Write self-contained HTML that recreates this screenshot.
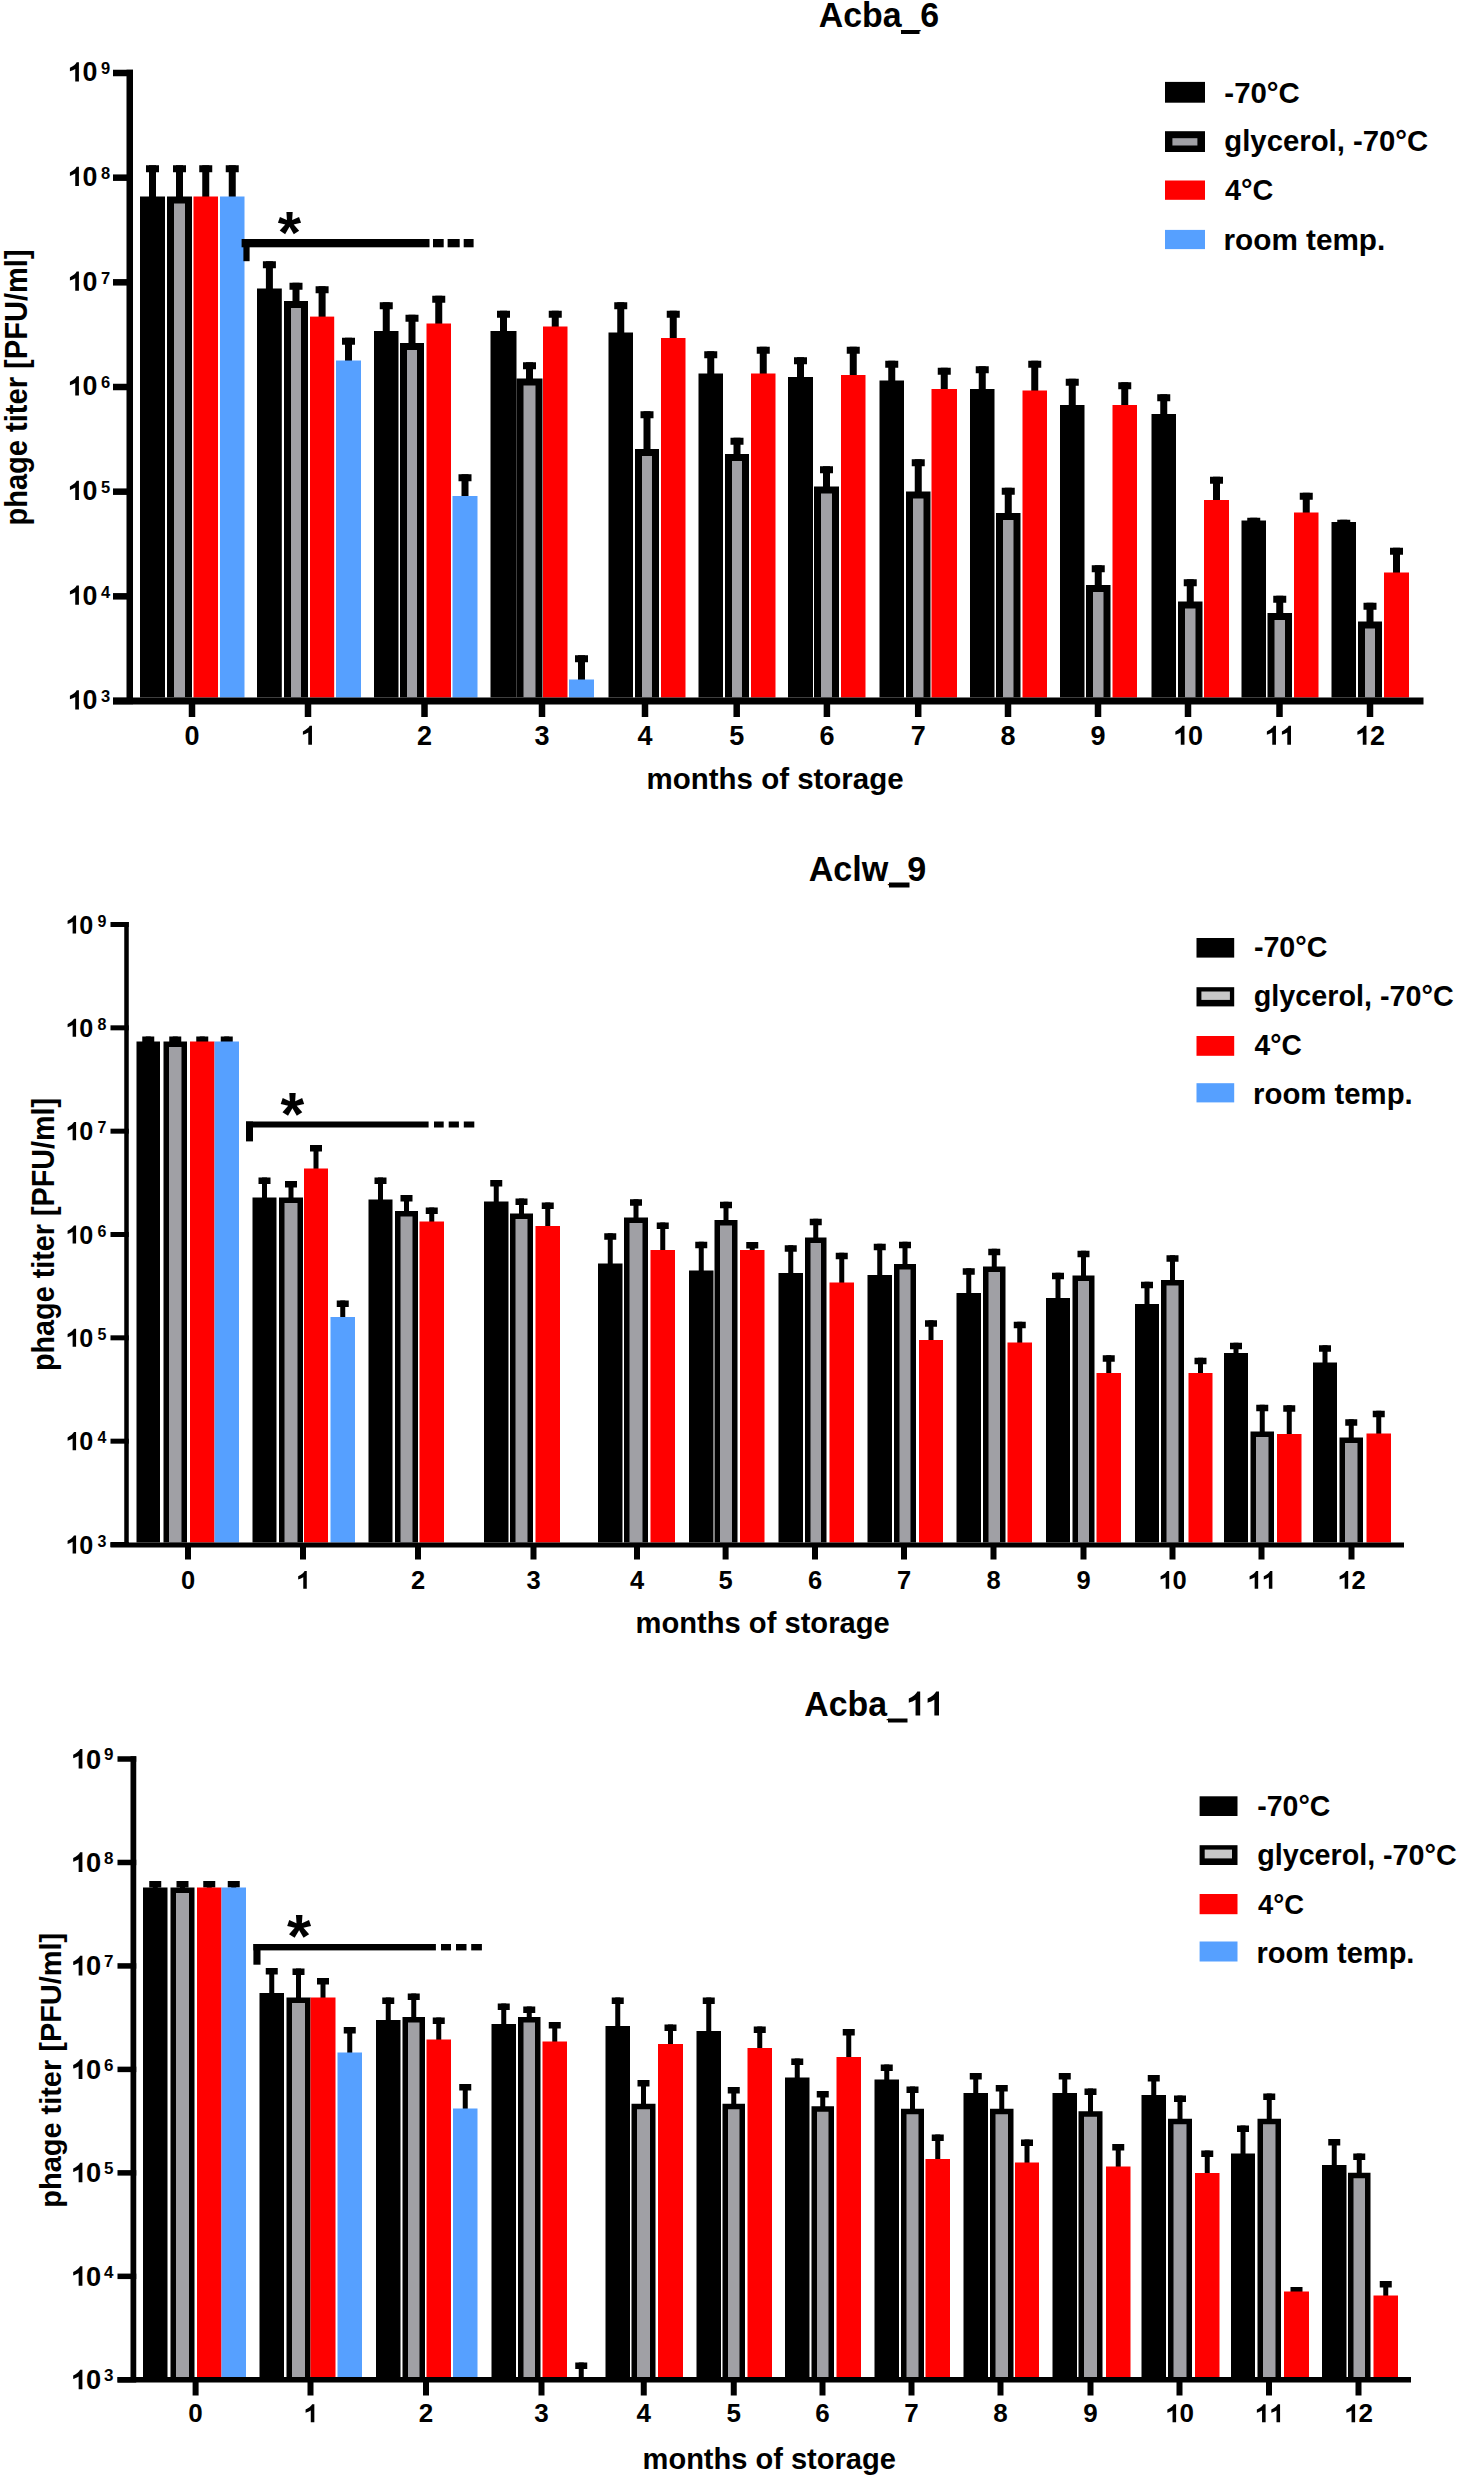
<!DOCTYPE html>
<html><head><meta charset="utf-8"><style>
html,body{margin:0;padding:0;background:#fff;width:1460px;height:2479px;overflow:hidden}
svg{display:block}
text{font-family:"Liberation Sans",sans-serif;font-weight:bold;fill:#000}
</style></head><body>
<svg width="1460" height="2479" viewBox="0 0 1460 2479">
<rect width="1460" height="2479" fill="#fff"/>
<rect x="149.00" y="165.25" width="7.00" height="32.25" fill="#000"/>
<rect x="146.00" y="165.25" width="13.00" height="7.00" fill="#000"/>
<rect x="140.00" y="196.50" width="25.00" height="501.00" fill="#000"/>
<rect x="176.00" y="165.25" width="7.00" height="32.25" fill="#000"/>
<rect x="173.00" y="165.25" width="13.00" height="7.00" fill="#000"/>
<rect x="167.00" y="196.50" width="25.00" height="501.00" fill="#000"/>
<rect x="174.00" y="203.50" width="11.00" height="494.00" fill="#a0a0a5"/>
<rect x="202.25" y="165.25" width="7.00" height="32.25" fill="#000"/>
<rect x="199.25" y="165.25" width="13.00" height="7.00" fill="#000"/>
<rect x="193.50" y="196.50" width="24.50" height="501.00" fill="#ff0000"/>
<rect x="228.75" y="165.25" width="7.00" height="32.25" fill="#000"/>
<rect x="225.75" y="165.25" width="13.00" height="7.00" fill="#000"/>
<rect x="220.00" y="196.50" width="24.50" height="501.00" fill="#56a0ff"/>
<rect x="265.90" y="261.25" width="7.00" height="28.25" fill="#000"/>
<rect x="262.90" y="261.25" width="13.00" height="7.00" fill="#000"/>
<rect x="257.00" y="288.50" width="24.80" height="409.00" fill="#000"/>
<rect x="292.50" y="282.75" width="7.00" height="19.25" fill="#000"/>
<rect x="289.50" y="282.75" width="13.00" height="7.00" fill="#000"/>
<rect x="284.00" y="301.00" width="24.00" height="396.50" fill="#000"/>
<rect x="291.00" y="308.00" width="10.00" height="389.50" fill="#a0a0a5"/>
<rect x="318.60" y="286.25" width="7.00" height="31.35" fill="#000"/>
<rect x="315.60" y="286.25" width="13.00" height="7.00" fill="#000"/>
<rect x="310.00" y="316.60" width="24.20" height="380.90" fill="#ff0000"/>
<rect x="345.00" y="337.75" width="7.00" height="23.75" fill="#000"/>
<rect x="342.00" y="337.75" width="13.00" height="7.00" fill="#000"/>
<rect x="336.00" y="360.50" width="25.00" height="337.00" fill="#56a0ff"/>
<rect x="382.75" y="302.25" width="7.00" height="29.75" fill="#000"/>
<rect x="379.75" y="302.25" width="13.00" height="7.00" fill="#000"/>
<rect x="374.00" y="331.00" width="24.50" height="366.50" fill="#000"/>
<rect x="408.50" y="314.75" width="7.00" height="29.25" fill="#000"/>
<rect x="405.50" y="314.75" width="13.00" height="7.00" fill="#000"/>
<rect x="400.00" y="343.00" width="24.00" height="354.50" fill="#000"/>
<rect x="407.00" y="350.00" width="10.00" height="347.50" fill="#a0a0a5"/>
<rect x="435.25" y="295.75" width="7.00" height="28.75" fill="#000"/>
<rect x="432.25" y="295.75" width="13.00" height="7.00" fill="#000"/>
<rect x="426.50" y="323.50" width="24.50" height="374.00" fill="#ff0000"/>
<rect x="461.50" y="474.25" width="7.00" height="22.75" fill="#000"/>
<rect x="458.50" y="474.25" width="13.00" height="7.00" fill="#000"/>
<rect x="452.50" y="496.00" width="25.00" height="201.50" fill="#56a0ff"/>
<rect x="500.00" y="310.75" width="7.00" height="21.25" fill="#000"/>
<rect x="497.00" y="310.75" width="13.00" height="7.00" fill="#000"/>
<rect x="490.50" y="331.00" width="26.00" height="366.50" fill="#000"/>
<rect x="526.00" y="362.25" width="7.00" height="17.25" fill="#000"/>
<rect x="523.00" y="362.25" width="13.00" height="7.00" fill="#000"/>
<rect x="516.50" y="378.50" width="26.00" height="319.00" fill="#000"/>
<rect x="523.50" y="385.50" width="12.00" height="312.00" fill="#a0a0a5"/>
<rect x="551.75" y="310.75" width="7.00" height="16.75" fill="#000"/>
<rect x="548.75" y="310.75" width="13.00" height="7.00" fill="#000"/>
<rect x="543.00" y="326.50" width="24.50" height="371.00" fill="#ff0000"/>
<rect x="578.00" y="655.25" width="7.00" height="25.25" fill="#000"/>
<rect x="575.00" y="655.25" width="13.00" height="7.00" fill="#000"/>
<rect x="569.00" y="679.50" width="25.00" height="18.00" fill="#56a0ff"/>
<rect x="617.25" y="302.25" width="7.00" height="31.25" fill="#000"/>
<rect x="614.25" y="302.25" width="13.00" height="7.00" fill="#000"/>
<rect x="608.50" y="332.50" width="24.50" height="365.00" fill="#000"/>
<rect x="643.50" y="411.25" width="7.00" height="38.75" fill="#000"/>
<rect x="640.50" y="411.25" width="13.00" height="7.00" fill="#000"/>
<rect x="635.00" y="449.00" width="24.00" height="248.50" fill="#000"/>
<rect x="642.00" y="456.00" width="10.00" height="241.50" fill="#a0a0a5"/>
<rect x="669.75" y="310.75" width="7.00" height="28.25" fill="#000"/>
<rect x="666.75" y="310.75" width="13.00" height="7.00" fill="#000"/>
<rect x="661.00" y="338.00" width="24.50" height="359.50" fill="#ff0000"/>
<rect x="707.25" y="351.25" width="7.00" height="23.25" fill="#000"/>
<rect x="704.25" y="351.25" width="13.00" height="7.00" fill="#000"/>
<rect x="698.50" y="373.50" width="24.50" height="324.00" fill="#000"/>
<rect x="733.50" y="437.75" width="7.00" height="17.25" fill="#000"/>
<rect x="730.50" y="437.75" width="13.00" height="7.00" fill="#000"/>
<rect x="725.00" y="454.00" width="24.00" height="243.50" fill="#000"/>
<rect x="732.00" y="461.00" width="10.00" height="236.50" fill="#a0a0a5"/>
<rect x="759.75" y="346.75" width="7.00" height="27.75" fill="#000"/>
<rect x="756.75" y="346.75" width="13.00" height="7.00" fill="#000"/>
<rect x="751.00" y="373.50" width="24.50" height="324.00" fill="#ff0000"/>
<rect x="797.00" y="357.25" width="7.00" height="20.75" fill="#000"/>
<rect x="794.00" y="357.25" width="13.00" height="7.00" fill="#000"/>
<rect x="788.00" y="377.00" width="25.00" height="320.50" fill="#000"/>
<rect x="823.00" y="466.25" width="7.00" height="21.25" fill="#000"/>
<rect x="820.00" y="466.25" width="13.00" height="7.00" fill="#000"/>
<rect x="814.00" y="486.50" width="25.00" height="211.00" fill="#000"/>
<rect x="821.00" y="493.50" width="11.00" height="204.00" fill="#a0a0a5"/>
<rect x="849.75" y="346.75" width="7.00" height="29.25" fill="#000"/>
<rect x="846.75" y="346.75" width="13.00" height="7.00" fill="#000"/>
<rect x="841.00" y="375.00" width="24.50" height="322.50" fill="#ff0000"/>
<rect x="888.25" y="360.75" width="7.00" height="20.75" fill="#000"/>
<rect x="885.25" y="360.75" width="13.00" height="7.00" fill="#000"/>
<rect x="879.50" y="380.50" width="24.50" height="317.00" fill="#000"/>
<rect x="914.75" y="459.25" width="7.00" height="33.25" fill="#000"/>
<rect x="911.75" y="459.25" width="13.00" height="7.00" fill="#000"/>
<rect x="906.00" y="491.50" width="24.50" height="206.00" fill="#000"/>
<rect x="913.00" y="498.50" width="10.50" height="199.00" fill="#a0a0a5"/>
<rect x="940.75" y="367.75" width="7.00" height="22.25" fill="#000"/>
<rect x="937.75" y="367.75" width="13.00" height="7.00" fill="#000"/>
<rect x="931.50" y="389.00" width="25.50" height="308.50" fill="#ff0000"/>
<rect x="978.75" y="366.25" width="7.00" height="23.75" fill="#000"/>
<rect x="975.75" y="366.25" width="13.00" height="7.00" fill="#000"/>
<rect x="970.00" y="389.00" width="24.50" height="308.50" fill="#000"/>
<rect x="1004.75" y="487.75" width="7.00" height="26.25" fill="#000"/>
<rect x="1001.75" y="487.75" width="13.00" height="7.00" fill="#000"/>
<rect x="996.00" y="513.00" width="24.50" height="184.50" fill="#000"/>
<rect x="1003.00" y="520.00" width="10.50" height="177.50" fill="#a0a0a5"/>
<rect x="1031.25" y="360.75" width="7.00" height="30.75" fill="#000"/>
<rect x="1028.25" y="360.75" width="13.00" height="7.00" fill="#000"/>
<rect x="1022.50" y="390.50" width="24.50" height="307.00" fill="#ff0000"/>
<rect x="1068.75" y="378.75" width="7.00" height="27.25" fill="#000"/>
<rect x="1065.75" y="378.75" width="13.00" height="7.00" fill="#000"/>
<rect x="1060.00" y="405.00" width="24.50" height="292.50" fill="#000"/>
<rect x="1094.75" y="565.25" width="7.00" height="20.75" fill="#000"/>
<rect x="1091.75" y="565.25" width="13.00" height="7.00" fill="#000"/>
<rect x="1086.00" y="585.00" width="24.50" height="112.50" fill="#000"/>
<rect x="1093.00" y="592.00" width="10.50" height="105.50" fill="#a0a0a5"/>
<rect x="1121.25" y="382.25" width="7.00" height="23.75" fill="#000"/>
<rect x="1118.25" y="382.25" width="13.00" height="7.00" fill="#000"/>
<rect x="1112.50" y="405.00" width="24.50" height="292.50" fill="#ff0000"/>
<rect x="1160.25" y="394.25" width="7.00" height="20.75" fill="#000"/>
<rect x="1157.25" y="394.25" width="13.00" height="7.00" fill="#000"/>
<rect x="1151.50" y="414.00" width="24.50" height="283.50" fill="#000"/>
<rect x="1186.75" y="579.25" width="7.00" height="23.25" fill="#000"/>
<rect x="1183.75" y="579.25" width="13.00" height="7.00" fill="#000"/>
<rect x="1178.00" y="601.50" width="24.50" height="96.00" fill="#000"/>
<rect x="1185.00" y="608.50" width="10.50" height="89.00" fill="#a0a0a5"/>
<rect x="1213.00" y="476.75" width="7.00" height="24.25" fill="#000"/>
<rect x="1210.00" y="476.75" width="13.00" height="7.00" fill="#000"/>
<rect x="1204.00" y="500.00" width="25.00" height="197.50" fill="#ff0000"/>
<rect x="1250.25" y="517.75" width="7.00" height="3.75" fill="#000"/>
<rect x="1247.25" y="517.75" width="13.00" height="7.00" fill="#000"/>
<rect x="1241.50" y="520.50" width="24.50" height="177.00" fill="#000"/>
<rect x="1276.25" y="595.75" width="7.00" height="18.25" fill="#000"/>
<rect x="1273.25" y="595.75" width="13.00" height="7.00" fill="#000"/>
<rect x="1267.50" y="613.00" width="24.50" height="84.50" fill="#000"/>
<rect x="1274.50" y="620.00" width="10.50" height="77.50" fill="#a0a0a5"/>
<rect x="1302.75" y="492.75" width="7.00" height="20.75" fill="#000"/>
<rect x="1299.75" y="492.75" width="13.00" height="7.00" fill="#000"/>
<rect x="1294.00" y="512.50" width="24.50" height="185.00" fill="#ff0000"/>
<rect x="1340.25" y="519.75" width="7.00" height="3.25" fill="#000"/>
<rect x="1337.25" y="519.75" width="13.00" height="7.00" fill="#000"/>
<rect x="1331.50" y="522.00" width="24.50" height="175.50" fill="#000"/>
<rect x="1366.50" y="602.75" width="7.00" height="19.75" fill="#000"/>
<rect x="1363.50" y="602.75" width="13.00" height="7.00" fill="#000"/>
<rect x="1358.00" y="621.50" width="24.00" height="76.00" fill="#000"/>
<rect x="1365.00" y="628.50" width="10.00" height="69.00" fill="#a0a0a5"/>
<rect x="1393.00" y="547.75" width="7.00" height="25.75" fill="#000"/>
<rect x="1390.00" y="547.75" width="13.00" height="7.00" fill="#000"/>
<rect x="1384.00" y="572.50" width="25.00" height="125.00" fill="#ff0000"/>
<rect x="126.50" y="69.75" width="6.50" height="628.75" fill="#000"/>
<rect x="113.00" y="69.75" width="20.00" height="6.50" fill="#000"/>
<rect x="113.00" y="174.42" width="20.00" height="6.50" fill="#000"/>
<rect x="113.00" y="279.08" width="20.00" height="6.50" fill="#000"/>
<rect x="113.00" y="383.75" width="20.00" height="6.50" fill="#000"/>
<rect x="113.00" y="488.42" width="20.00" height="6.50" fill="#000"/>
<rect x="113.00" y="593.08" width="20.00" height="6.50" fill="#000"/>
<rect x="113.00" y="697.75" width="20.00" height="6.50" fill="#000"/>
<rect x="113.00" y="697.50" width="1310.50" height="7.00" fill="#000"/>
<rect x="188.75" y="704.00" width="6.50" height="13.00" fill="#000"/>
<text transform="translate(184.49,744.70) scale(1.0000,1.0000)" font-size="27">0</text>
<rect x="304.75" y="704.00" width="6.50" height="13.00" fill="#000"/>
<path transform="translate(300.49,744.70) scale(0.01318,-0.01318)" d="M872,0L872,1430L700,1430C640,1290 440,1130 182,1010L182,754C330,800 480,860 591,930L591,0Z"/>
<rect x="421.25" y="704.00" width="6.50" height="13.00" fill="#000"/>
<text transform="translate(416.99,744.70) scale(1.0000,1.0000)" font-size="27">2</text>
<rect x="538.75" y="704.00" width="6.50" height="13.00" fill="#000"/>
<text transform="translate(534.49,744.70) scale(1.0000,1.0000)" font-size="27">3</text>
<rect x="641.75" y="704.00" width="6.50" height="13.00" fill="#000"/>
<text transform="translate(637.49,744.70) scale(1.0000,1.0000)" font-size="27">4</text>
<rect x="733.45" y="704.00" width="6.50" height="13.00" fill="#000"/>
<text transform="translate(729.19,744.70) scale(1.0000,1.0000)" font-size="27">5</text>
<rect x="823.65" y="704.00" width="6.50" height="13.00" fill="#000"/>
<text transform="translate(819.39,744.70) scale(1.0000,1.0000)" font-size="27">6</text>
<rect x="914.95" y="704.00" width="6.50" height="13.00" fill="#000"/>
<text transform="translate(910.69,744.70) scale(1.0000,1.0000)" font-size="27">7</text>
<rect x="1004.75" y="704.00" width="6.50" height="13.00" fill="#000"/>
<text transform="translate(1000.49,744.70) scale(1.0000,1.0000)" font-size="27">8</text>
<rect x="1094.75" y="704.00" width="6.50" height="13.00" fill="#000"/>
<text transform="translate(1090.49,744.70) scale(1.0000,1.0000)" font-size="27">9</text>
<rect x="1184.75" y="704.00" width="6.50" height="13.00" fill="#000"/>
<path transform="translate(1172.98,744.70) scale(0.01318,-0.01318)" d="M872,0L872,1430L700,1430C640,1290 440,1130 182,1010L182,754C330,800 480,860 591,930L591,0Z"/>
<text transform="translate(1188.00,744.70) scale(1.0000,1.0000)" font-size="27">0</text>
<rect x="1276.25" y="704.00" width="6.50" height="13.00" fill="#000"/>
<path transform="translate(1264.48,744.70) scale(0.01318,-0.01318)" d="M872,0L872,1430L700,1430C640,1290 440,1130 182,1010L182,754C330,800 480,860 591,930L591,0Z"/>
<path transform="translate(1279.50,744.70) scale(0.01318,-0.01318)" d="M872,0L872,1430L700,1430C640,1290 440,1130 182,1010L182,754C330,800 480,860 591,930L591,0Z"/>
<rect x="1366.75" y="704.00" width="6.50" height="13.00" fill="#000"/>
<path transform="translate(1354.98,744.70) scale(0.01318,-0.01318)" d="M872,0L872,1430L700,1430C640,1290 440,1130 182,1010L182,754C330,800 480,860 591,930L591,0Z"/>
<text transform="translate(1370.00,744.70) scale(1.0000,1.0000)" font-size="27">2</text>
<path transform="translate(67.52,81.40) scale(0.01307,-0.01346)" d="M872,0L872,1430L700,1430C640,1290 440,1130 182,1010L182,754C330,800 480,860 591,930L591,0Z"/>
<text transform="translate(82.41,81.40) scale(0.8924,0.9191)" font-size="30">0</text>
<text transform="translate(100.91,74.30) scale(1.0000,1.0000)" font-size="16.5">9</text>
<path transform="translate(67.52,186.07) scale(0.01307,-0.01346)" d="M872,0L872,1430L700,1430C640,1290 440,1130 182,1010L182,754C330,800 480,860 591,930L591,0Z"/>
<text transform="translate(82.41,186.07) scale(0.8924,0.9191)" font-size="30">0</text>
<text transform="translate(100.91,178.97) scale(1.0000,1.0000)" font-size="16.5">8</text>
<path transform="translate(67.52,290.73) scale(0.01307,-0.01346)" d="M872,0L872,1430L700,1430C640,1290 440,1130 182,1010L182,754C330,800 480,860 591,930L591,0Z"/>
<text transform="translate(82.41,290.73) scale(0.8924,0.9191)" font-size="30">0</text>
<text transform="translate(100.91,283.63) scale(1.0000,1.0000)" font-size="16.5">7</text>
<path transform="translate(67.52,395.40) scale(0.01307,-0.01346)" d="M872,0L872,1430L700,1430C640,1290 440,1130 182,1010L182,754C330,800 480,860 591,930L591,0Z"/>
<text transform="translate(82.41,395.40) scale(0.8924,0.9191)" font-size="30">0</text>
<text transform="translate(100.91,388.30) scale(1.0000,1.0000)" font-size="16.5">6</text>
<path transform="translate(67.52,500.07) scale(0.01307,-0.01346)" d="M872,0L872,1430L700,1430C640,1290 440,1130 182,1010L182,754C330,800 480,860 591,930L591,0Z"/>
<text transform="translate(82.41,500.07) scale(0.8924,0.9191)" font-size="30">0</text>
<text transform="translate(100.91,492.97) scale(1.0000,1.0000)" font-size="16.5">5</text>
<path transform="translate(67.52,604.73) scale(0.01307,-0.01346)" d="M872,0L872,1430L700,1430C640,1290 440,1130 182,1010L182,754C330,800 480,860 591,930L591,0Z"/>
<text transform="translate(82.41,604.73) scale(0.8924,0.9191)" font-size="30">0</text>
<text transform="translate(100.91,597.63) scale(1.0000,1.0000)" font-size="16.5">4</text>
<path transform="translate(67.52,709.40) scale(0.01307,-0.01346)" d="M872,0L872,1430L700,1430C640,1290 440,1130 182,1010L182,754C330,800 480,860 591,930L591,0Z"/>
<text transform="translate(82.41,709.40) scale(0.8924,0.9191)" font-size="30">0</text>
<text transform="translate(100.91,702.30) scale(1.0000,1.0000)" font-size="16.5">3</text>
<text transform="translate(646.56,788.80) scale(0.9827,1.0023)" font-size="30">months of storage</text>
<text transform="translate(26.85,525.62) rotate(-90) scale(0.9696,1.0144)" font-size="30">phage titer [PFU/ml]</text>
<text transform="translate(818.66,27.00) scale(1.1297,1.1523)" font-size="30">Acba_6</text>
<rect x="901.00" y="30.00" width="18.50" height="4.00" fill="#000"/>
<rect x="1165.00" y="81.90" width="40.00" height="20.80" fill="#000"/>
<text transform="translate(1224.35,102.70) scale(0.9796,0.9992)" font-size="30">-70°C</text>
<rect x="1165.00" y="131.20" width="40.00" height="20.80" fill="#000"/>
<rect x="1172.40" y="138.20" width="25.00" height="7.30" fill="#a0a0a5"/>
<text transform="translate(1224.30,151.00) scale(0.9773,0.9969)" font-size="30">glycerol, -70°C</text>
<rect x="1165.00" y="180.50" width="40.00" height="19.30" fill="#ff0000"/>
<text transform="translate(1225.06,200.30) scale(0.9598,0.9790)" font-size="30">4°C</text>
<rect x="1165.00" y="229.90" width="40.00" height="19.20" fill="#56a0ff"/>
<text transform="translate(1223.54,249.60) scale(0.9906,1.0104)" font-size="30">room temp.</text>
<rect x="241.60" y="239.00" width="187.90" height="8.30" fill="#000"/>
<rect x="433.00" y="239.00" width="10.70" height="8.30" fill="#000"/>
<rect x="447.60" y="239.00" width="12.10" height="8.30" fill="#000"/>
<rect x="463.70" y="239.00" width="9.90" height="8.30" fill="#000"/>
<rect x="243.40" y="239.00" width="6.20" height="22.20" fill="#000"/>
<text x="277.70" y="252.60" font-size="60" text-anchor="start" >*</text>
<rect x="145.75" y="1036.50" width="5.00" height="6.00" fill="#000"/>
<rect x="142.25" y="1036.50" width="12.00" height="6.50" fill="#000"/>
<rect x="136.50" y="1041.50" width="23.50" height="501.00" fill="#000"/>
<rect x="172.75" y="1036.50" width="5.00" height="6.00" fill="#000"/>
<rect x="169.25" y="1036.50" width="12.00" height="6.50" fill="#000"/>
<rect x="163.50" y="1041.50" width="23.50" height="501.00" fill="#000"/>
<rect x="169.00" y="1047.00" width="12.50" height="495.50" fill="#a0a0a5"/>
<rect x="199.75" y="1036.50" width="5.00" height="6.00" fill="#000"/>
<rect x="196.25" y="1036.50" width="12.00" height="6.50" fill="#000"/>
<rect x="190.00" y="1041.50" width="24.50" height="501.00" fill="#ff0000"/>
<rect x="224.25" y="1036.50" width="5.00" height="6.00" fill="#000"/>
<rect x="220.75" y="1036.50" width="12.00" height="6.50" fill="#000"/>
<rect x="214.50" y="1041.50" width="24.50" height="501.00" fill="#56a0ff"/>
<rect x="262.00" y="1177.50" width="5.00" height="21.00" fill="#000"/>
<rect x="258.50" y="1177.50" width="12.00" height="6.50" fill="#000"/>
<rect x="252.50" y="1197.50" width="24.00" height="345.00" fill="#000"/>
<rect x="288.50" y="1181.00" width="5.00" height="17.50" fill="#000"/>
<rect x="285.00" y="1181.00" width="12.00" height="6.50" fill="#000"/>
<rect x="279.00" y="1197.50" width="24.00" height="345.00" fill="#000"/>
<rect x="284.50" y="1203.00" width="13.00" height="339.50" fill="#a0a0a5"/>
<rect x="313.50" y="1145.00" width="5.00" height="24.50" fill="#000"/>
<rect x="310.00" y="1145.00" width="12.00" height="6.50" fill="#000"/>
<rect x="304.00" y="1168.50" width="24.00" height="374.00" fill="#ff0000"/>
<rect x="340.25" y="1300.50" width="5.00" height="17.50" fill="#000"/>
<rect x="336.75" y="1300.50" width="12.00" height="6.50" fill="#000"/>
<rect x="330.50" y="1317.00" width="24.50" height="225.50" fill="#56a0ff"/>
<rect x="378.00" y="1177.50" width="5.00" height="23.00" fill="#000"/>
<rect x="374.50" y="1177.50" width="12.00" height="6.50" fill="#000"/>
<rect x="368.50" y="1199.50" width="24.00" height="343.00" fill="#000"/>
<rect x="404.00" y="1195.00" width="5.00" height="17.00" fill="#000"/>
<rect x="400.50" y="1195.00" width="12.00" height="6.50" fill="#000"/>
<rect x="395.00" y="1211.00" width="23.00" height="331.50" fill="#000"/>
<rect x="400.50" y="1216.50" width="12.00" height="326.00" fill="#a0a0a5"/>
<rect x="429.25" y="1207.50" width="5.00" height="15.00" fill="#000"/>
<rect x="425.75" y="1207.50" width="12.00" height="6.50" fill="#000"/>
<rect x="419.50" y="1221.50" width="24.50" height="321.00" fill="#ff0000"/>
<rect x="493.75" y="1180.00" width="5.00" height="22.50" fill="#000"/>
<rect x="490.25" y="1180.00" width="12.00" height="6.50" fill="#000"/>
<rect x="484.00" y="1201.50" width="24.50" height="341.00" fill="#000"/>
<rect x="519.00" y="1198.50" width="5.00" height="16.00" fill="#000"/>
<rect x="515.50" y="1198.50" width="12.00" height="6.50" fill="#000"/>
<rect x="510.00" y="1213.50" width="23.00" height="329.00" fill="#000"/>
<rect x="515.50" y="1219.00" width="12.00" height="323.50" fill="#a0a0a5"/>
<rect x="545.25" y="1202.50" width="5.00" height="24.50" fill="#000"/>
<rect x="541.75" y="1202.50" width="12.00" height="6.50" fill="#000"/>
<rect x="535.50" y="1226.00" width="24.50" height="316.50" fill="#ff0000"/>
<rect x="607.75" y="1233.25" width="5.00" height="31.25" fill="#000"/>
<rect x="604.25" y="1233.25" width="12.00" height="6.50" fill="#000"/>
<rect x="598.00" y="1263.50" width="24.50" height="279.00" fill="#000"/>
<rect x="633.50" y="1199.25" width="5.00" height="19.25" fill="#000"/>
<rect x="630.00" y="1199.25" width="12.00" height="6.50" fill="#000"/>
<rect x="624.00" y="1217.50" width="24.00" height="325.00" fill="#000"/>
<rect x="629.50" y="1223.00" width="13.00" height="319.50" fill="#a0a0a5"/>
<rect x="660.25" y="1222.50" width="5.00" height="28.50" fill="#000"/>
<rect x="656.75" y="1222.50" width="12.00" height="6.50" fill="#000"/>
<rect x="650.50" y="1250.00" width="24.50" height="292.50" fill="#ff0000"/>
<rect x="698.75" y="1241.75" width="5.00" height="29.75" fill="#000"/>
<rect x="695.25" y="1241.75" width="12.00" height="6.50" fill="#000"/>
<rect x="689.00" y="1270.50" width="24.50" height="272.00" fill="#000"/>
<rect x="723.50" y="1201.75" width="5.00" height="19.25" fill="#000"/>
<rect x="720.00" y="1201.75" width="12.00" height="6.50" fill="#000"/>
<rect x="714.50" y="1220.00" width="23.00" height="322.50" fill="#000"/>
<rect x="720.00" y="1225.50" width="12.00" height="317.00" fill="#a0a0a5"/>
<rect x="749.75" y="1242.00" width="5.00" height="9.00" fill="#000"/>
<rect x="746.25" y="1242.00" width="12.00" height="6.50" fill="#000"/>
<rect x="740.00" y="1250.00" width="24.50" height="292.50" fill="#ff0000"/>
<rect x="788.25" y="1245.25" width="5.00" height="28.75" fill="#000"/>
<rect x="784.75" y="1245.25" width="12.00" height="6.50" fill="#000"/>
<rect x="778.50" y="1273.00" width="24.50" height="269.50" fill="#000"/>
<rect x="813.25" y="1218.75" width="5.00" height="19.75" fill="#000"/>
<rect x="809.75" y="1218.75" width="12.00" height="6.50" fill="#000"/>
<rect x="805.00" y="1237.50" width="21.50" height="305.00" fill="#000"/>
<rect x="810.50" y="1243.00" width="10.50" height="299.50" fill="#a0a0a5"/>
<rect x="839.25" y="1252.75" width="5.00" height="30.75" fill="#000"/>
<rect x="835.75" y="1252.75" width="12.00" height="6.50" fill="#000"/>
<rect x="829.50" y="1282.50" width="24.50" height="260.00" fill="#ff0000"/>
<rect x="877.25" y="1243.75" width="5.00" height="32.25" fill="#000"/>
<rect x="873.75" y="1243.75" width="12.00" height="6.50" fill="#000"/>
<rect x="867.50" y="1275.00" width="24.50" height="267.50" fill="#000"/>
<rect x="902.50" y="1241.75" width="5.00" height="23.25" fill="#000"/>
<rect x="899.00" y="1241.75" width="12.00" height="6.50" fill="#000"/>
<rect x="894.00" y="1264.00" width="22.00" height="278.50" fill="#000"/>
<rect x="899.50" y="1269.50" width="11.00" height="273.00" fill="#a0a0a5"/>
<rect x="928.50" y="1320.25" width="5.00" height="20.75" fill="#000"/>
<rect x="925.00" y="1320.25" width="12.00" height="6.50" fill="#000"/>
<rect x="919.00" y="1340.00" width="24.00" height="202.50" fill="#ff0000"/>
<rect x="966.25" y="1268.25" width="5.00" height="25.75" fill="#000"/>
<rect x="962.75" y="1268.25" width="12.00" height="6.50" fill="#000"/>
<rect x="956.50" y="1293.00" width="24.50" height="249.50" fill="#000"/>
<rect x="991.75" y="1248.75" width="5.00" height="18.75" fill="#000"/>
<rect x="988.25" y="1248.75" width="12.00" height="6.50" fill="#000"/>
<rect x="983.00" y="1266.50" width="22.50" height="276.00" fill="#000"/>
<rect x="988.50" y="1272.00" width="11.50" height="270.50" fill="#a0a0a5"/>
<rect x="1017.25" y="1321.75" width="5.00" height="21.75" fill="#000"/>
<rect x="1013.75" y="1321.75" width="12.00" height="6.50" fill="#000"/>
<rect x="1007.50" y="1342.50" width="24.50" height="200.00" fill="#ff0000"/>
<rect x="1055.50" y="1272.75" width="5.00" height="26.25" fill="#000"/>
<rect x="1052.00" y="1272.75" width="12.00" height="6.50" fill="#000"/>
<rect x="1046.00" y="1298.00" width="24.00" height="244.50" fill="#000"/>
<rect x="1081.00" y="1250.75" width="5.00" height="25.75" fill="#000"/>
<rect x="1077.50" y="1250.75" width="12.00" height="6.50" fill="#000"/>
<rect x="1072.50" y="1275.50" width="22.00" height="267.00" fill="#000"/>
<rect x="1078.00" y="1281.00" width="11.00" height="261.50" fill="#a0a0a5"/>
<rect x="1106.25" y="1355.25" width="5.00" height="18.75" fill="#000"/>
<rect x="1102.75" y="1355.25" width="12.00" height="6.50" fill="#000"/>
<rect x="1096.50" y="1373.00" width="24.50" height="169.50" fill="#ff0000"/>
<rect x="1144.50" y="1281.75" width="5.00" height="23.25" fill="#000"/>
<rect x="1141.00" y="1281.75" width="12.00" height="6.50" fill="#000"/>
<rect x="1135.00" y="1304.00" width="24.00" height="238.50" fill="#000"/>
<rect x="1170.00" y="1255.25" width="5.00" height="25.75" fill="#000"/>
<rect x="1166.50" y="1255.25" width="12.00" height="6.50" fill="#000"/>
<rect x="1161.00" y="1280.00" width="23.00" height="262.50" fill="#000"/>
<rect x="1166.50" y="1285.50" width="12.00" height="257.00" fill="#a0a0a5"/>
<rect x="1198.00" y="1357.75" width="5.00" height="16.25" fill="#000"/>
<rect x="1194.50" y="1357.75" width="12.00" height="6.50" fill="#000"/>
<rect x="1188.50" y="1373.00" width="24.00" height="169.50" fill="#ff0000"/>
<rect x="1233.50" y="1342.75" width="5.00" height="11.25" fill="#000"/>
<rect x="1230.00" y="1342.75" width="12.00" height="6.50" fill="#000"/>
<rect x="1224.00" y="1353.00" width="24.00" height="189.50" fill="#000"/>
<rect x="1259.75" y="1404.75" width="5.00" height="27.75" fill="#000"/>
<rect x="1256.25" y="1404.75" width="12.00" height="6.50" fill="#000"/>
<rect x="1250.50" y="1431.50" width="23.50" height="111.00" fill="#000"/>
<rect x="1256.00" y="1437.00" width="12.50" height="105.50" fill="#a0a0a5"/>
<rect x="1286.75" y="1405.25" width="5.00" height="29.75" fill="#000"/>
<rect x="1283.25" y="1405.25" width="12.00" height="6.50" fill="#000"/>
<rect x="1277.00" y="1434.00" width="24.50" height="108.50" fill="#ff0000"/>
<rect x="1322.50" y="1345.25" width="5.00" height="18.25" fill="#000"/>
<rect x="1319.00" y="1345.25" width="12.00" height="6.50" fill="#000"/>
<rect x="1313.00" y="1362.50" width="24.00" height="180.00" fill="#000"/>
<rect x="1348.75" y="1419.25" width="5.00" height="19.25" fill="#000"/>
<rect x="1345.25" y="1419.25" width="12.00" height="6.50" fill="#000"/>
<rect x="1339.50" y="1437.50" width="23.50" height="105.00" fill="#000"/>
<rect x="1345.00" y="1443.00" width="12.50" height="99.50" fill="#a0a0a5"/>
<rect x="1376.25" y="1410.75" width="5.00" height="23.75" fill="#000"/>
<rect x="1372.75" y="1410.75" width="12.00" height="6.50" fill="#000"/>
<rect x="1366.50" y="1433.50" width="24.50" height="109.00" fill="#ff0000"/>
<rect x="124.25" y="922.00" width="4.50" height="621.50" fill="#000"/>
<rect x="110.50" y="922.00" width="18.25" height="5.00" fill="#000"/>
<rect x="110.50" y="1025.33" width="18.25" height="5.00" fill="#000"/>
<rect x="110.50" y="1128.67" width="18.25" height="5.00" fill="#000"/>
<rect x="110.50" y="1232.00" width="18.25" height="5.00" fill="#000"/>
<rect x="110.50" y="1335.33" width="18.25" height="5.00" fill="#000"/>
<rect x="110.50" y="1438.67" width="18.25" height="5.00" fill="#000"/>
<rect x="110.50" y="1542.00" width="18.25" height="5.00" fill="#000"/>
<rect x="110.50" y="1542.50" width="1293.50" height="5.00" fill="#000"/>
<rect x="185.00" y="1547.00" width="6.00" height="12.50" fill="#000"/>
<text transform="translate(180.91,1588.80) scale(1.0000,1.0000)" font-size="25.5">0</text>
<rect x="300.00" y="1547.00" width="6.00" height="12.50" fill="#000"/>
<path transform="translate(295.91,1588.80) scale(0.01245,-0.01245)" d="M872,0L872,1430L700,1430C640,1290 440,1130 182,1010L182,754C330,800 480,860 591,930L591,0Z"/>
<rect x="415.00" y="1547.00" width="6.00" height="12.50" fill="#000"/>
<text transform="translate(410.91,1588.80) scale(1.0000,1.0000)" font-size="25.5">2</text>
<rect x="530.50" y="1547.00" width="6.00" height="12.50" fill="#000"/>
<text transform="translate(526.41,1588.80) scale(1.0000,1.0000)" font-size="25.5">3</text>
<rect x="634.00" y="1547.00" width="6.00" height="12.50" fill="#000"/>
<text transform="translate(629.91,1588.80) scale(1.0000,1.0000)" font-size="25.5">4</text>
<rect x="722.60" y="1547.00" width="6.00" height="12.50" fill="#000"/>
<text transform="translate(718.51,1588.80) scale(1.0000,1.0000)" font-size="25.5">5</text>
<rect x="812.00" y="1547.00" width="6.00" height="12.50" fill="#000"/>
<text transform="translate(807.91,1588.80) scale(1.0000,1.0000)" font-size="25.5">6</text>
<rect x="901.00" y="1547.00" width="6.00" height="12.50" fill="#000"/>
<text transform="translate(896.91,1588.80) scale(1.0000,1.0000)" font-size="25.5">7</text>
<rect x="990.50" y="1547.00" width="6.00" height="12.50" fill="#000"/>
<text transform="translate(986.41,1588.80) scale(1.0000,1.0000)" font-size="25.5">8</text>
<rect x="1080.50" y="1547.00" width="6.00" height="12.50" fill="#000"/>
<text transform="translate(1076.41,1588.80) scale(1.0000,1.0000)" font-size="25.5">9</text>
<rect x="1169.50" y="1547.00" width="6.00" height="12.50" fill="#000"/>
<path transform="translate(1158.32,1588.80) scale(0.01245,-0.01245)" d="M872,0L872,1430L700,1430C640,1290 440,1130 182,1010L182,754C330,800 480,860 591,930L591,0Z"/>
<text transform="translate(1172.50,1588.80) scale(1.0000,1.0000)" font-size="25.5">0</text>
<rect x="1258.50" y="1547.00" width="6.00" height="12.50" fill="#000"/>
<path transform="translate(1247.32,1588.80) scale(0.01245,-0.01245)" d="M872,0L872,1430L700,1430C640,1290 440,1130 182,1010L182,754C330,800 480,860 591,930L591,0Z"/>
<path transform="translate(1261.50,1588.80) scale(0.01245,-0.01245)" d="M872,0L872,1430L700,1430C640,1290 440,1130 182,1010L182,754C330,800 480,860 591,930L591,0Z"/>
<rect x="1348.50" y="1547.00" width="6.00" height="12.50" fill="#000"/>
<path transform="translate(1337.32,1588.80) scale(0.01245,-0.01245)" d="M872,0L872,1430L700,1430C640,1290 440,1130 182,1010L182,754C330,800 480,860 591,930L591,0Z"/>
<text transform="translate(1351.50,1588.80) scale(1.0000,1.0000)" font-size="25.5">2</text>
<path transform="translate(65.37,933.50) scale(0.01228,-0.01264)" d="M872,0L872,1430L700,1430C640,1290 440,1130 182,1010L182,754C330,800 480,860 591,930L591,0Z"/>
<text transform="translate(79.35,933.50) scale(0.8381,0.8632)" font-size="30">0</text>
<text transform="translate(97.45,926.50) scale(1.0000,1.0000)" font-size="16">9</text>
<path transform="translate(65.37,1036.83) scale(0.01228,-0.01264)" d="M872,0L872,1430L700,1430C640,1290 440,1130 182,1010L182,754C330,800 480,860 591,930L591,0Z"/>
<text transform="translate(79.35,1036.83) scale(0.8381,0.8632)" font-size="30">0</text>
<text transform="translate(97.45,1029.83) scale(1.0000,1.0000)" font-size="16">8</text>
<path transform="translate(65.37,1140.17) scale(0.01228,-0.01264)" d="M872,0L872,1430L700,1430C640,1290 440,1130 182,1010L182,754C330,800 480,860 591,930L591,0Z"/>
<text transform="translate(79.35,1140.17) scale(0.8381,0.8632)" font-size="30">0</text>
<text transform="translate(97.45,1133.17) scale(1.0000,1.0000)" font-size="16">7</text>
<path transform="translate(65.37,1243.50) scale(0.01228,-0.01264)" d="M872,0L872,1430L700,1430C640,1290 440,1130 182,1010L182,754C330,800 480,860 591,930L591,0Z"/>
<text transform="translate(79.35,1243.50) scale(0.8381,0.8632)" font-size="30">0</text>
<text transform="translate(97.45,1236.50) scale(1.0000,1.0000)" font-size="16">6</text>
<path transform="translate(65.37,1346.83) scale(0.01228,-0.01264)" d="M872,0L872,1430L700,1430C640,1290 440,1130 182,1010L182,754C330,800 480,860 591,930L591,0Z"/>
<text transform="translate(79.35,1346.83) scale(0.8381,0.8632)" font-size="30">0</text>
<text transform="translate(97.45,1339.83) scale(1.0000,1.0000)" font-size="16">5</text>
<path transform="translate(65.37,1450.17) scale(0.01228,-0.01264)" d="M872,0L872,1430L700,1430C640,1290 440,1130 182,1010L182,754C330,800 480,860 591,930L591,0Z"/>
<text transform="translate(79.35,1450.17) scale(0.8381,0.8632)" font-size="30">0</text>
<text transform="translate(97.45,1443.17) scale(1.0000,1.0000)" font-size="16">4</text>
<path transform="translate(65.37,1553.50) scale(0.01228,-0.01264)" d="M872,0L872,1430L700,1430C640,1290 440,1130 182,1010L182,754C330,800 480,860 591,930L591,0Z"/>
<text transform="translate(79.35,1553.50) scale(0.8381,0.8632)" font-size="30">0</text>
<text transform="translate(97.45,1546.50) scale(1.0000,1.0000)" font-size="16">3</text>
<text transform="translate(635.58,1632.50) scale(0.9713,0.9907)" font-size="30">months of storage</text>
<text transform="translate(53.94,1371.00) rotate(-90) scale(0.9586,1.0322)" font-size="30">phage titer [PFU/ml]</text>
<text transform="translate(808.65,880.50) scale(1.1376,1.1604)" font-size="30">Aclw_9</text>
<rect x="889.00" y="882.50" width="20.50" height="5.00" fill="#000"/>
<rect x="1196.50" y="938.00" width="37.70" height="19.60" fill="#000"/>
<text transform="translate(1253.88,957.10) scale(0.9556,0.9747)" font-size="30">-70°C</text>
<rect x="1196.50" y="987.20" width="37.70" height="19.20" fill="#000"/>
<rect x="1201.40" y="991.50" width="28.50" height="8.40" fill="#c8c8c8"/>
<text transform="translate(1253.82,1005.80) scale(0.9580,0.9771)" font-size="30">glycerol, -70°C</text>
<rect x="1196.50" y="1036.00" width="37.70" height="19.80" fill="#ff0000"/>
<text transform="translate(1254.57,1054.70) scale(0.9374,0.9561)" font-size="30">4°C</text>
<rect x="1196.50" y="1083.20" width="37.70" height="19.20" fill="#56a0ff"/>
<text transform="translate(1253.07,1104.00) scale(0.9774,0.9969)" font-size="30">room temp.</text>
<rect x="246.00" y="1121.50" width="182.60" height="6.00" fill="#000"/>
<rect x="434.00" y="1121.50" width="9.70" height="6.00" fill="#000"/>
<rect x="448.70" y="1121.50" width="10.20" height="6.00" fill="#000"/>
<rect x="463.80" y="1121.50" width="10.50" height="6.00" fill="#000"/>
<rect x="246.00" y="1121.50" width="7.00" height="19.90" fill="#000"/>
<text x="280.50" y="1134.50" font-size="61" text-anchor="start" >*</text>
<rect x="152.75" y="1881.00" width="5.00" height="7.50" fill="#000"/>
<rect x="149.25" y="1881.00" width="12.00" height="6.50" fill="#000"/>
<rect x="143.00" y="1887.50" width="24.50" height="489.50" fill="#000"/>
<rect x="180.00" y="1881.00" width="5.00" height="7.50" fill="#000"/>
<rect x="176.50" y="1881.00" width="12.00" height="6.50" fill="#000"/>
<rect x="170.50" y="1887.50" width="24.00" height="489.50" fill="#000"/>
<rect x="176.00" y="1893.00" width="13.00" height="484.00" fill="#a0a0a5"/>
<rect x="206.75" y="1881.00" width="5.00" height="7.50" fill="#000"/>
<rect x="203.25" y="1881.00" width="12.00" height="6.50" fill="#000"/>
<rect x="197.00" y="1887.50" width="24.50" height="489.50" fill="#ff0000"/>
<rect x="231.25" y="1881.00" width="5.00" height="7.50" fill="#000"/>
<rect x="227.75" y="1881.00" width="12.00" height="6.50" fill="#000"/>
<rect x="221.50" y="1887.50" width="24.50" height="489.50" fill="#56a0ff"/>
<rect x="269.25" y="1968.00" width="5.00" height="26.00" fill="#000"/>
<rect x="265.75" y="1968.00" width="12.00" height="6.50" fill="#000"/>
<rect x="259.50" y="1993.00" width="24.50" height="384.00" fill="#000"/>
<rect x="296.00" y="1968.50" width="5.00" height="30.00" fill="#000"/>
<rect x="292.50" y="1968.50" width="12.00" height="6.50" fill="#000"/>
<rect x="286.50" y="1997.50" width="24.00" height="379.50" fill="#000"/>
<rect x="292.00" y="2003.00" width="13.00" height="374.00" fill="#a0a0a5"/>
<rect x="320.50" y="1978.00" width="5.00" height="20.50" fill="#000"/>
<rect x="317.00" y="1978.00" width="12.00" height="6.50" fill="#000"/>
<rect x="310.50" y="1997.50" width="25.00" height="379.50" fill="#ff0000"/>
<rect x="347.25" y="2027.00" width="5.00" height="26.50" fill="#000"/>
<rect x="343.75" y="2027.00" width="12.00" height="6.50" fill="#000"/>
<rect x="337.50" y="2052.50" width="24.50" height="324.50" fill="#56a0ff"/>
<rect x="385.75" y="1997.50" width="5.00" height="23.50" fill="#000"/>
<rect x="382.25" y="1997.50" width="12.00" height="6.50" fill="#000"/>
<rect x="376.00" y="2020.00" width="24.50" height="357.00" fill="#000"/>
<rect x="411.25" y="1993.50" width="5.00" height="24.50" fill="#000"/>
<rect x="407.75" y="1993.50" width="12.00" height="6.50" fill="#000"/>
<rect x="402.50" y="2017.00" width="22.50" height="360.00" fill="#000"/>
<rect x="408.00" y="2022.50" width="11.50" height="354.50" fill="#a0a0a5"/>
<rect x="436.25" y="2017.50" width="5.00" height="23.00" fill="#000"/>
<rect x="432.75" y="2017.50" width="12.00" height="6.50" fill="#000"/>
<rect x="426.50" y="2039.50" width="24.50" height="337.50" fill="#ff0000"/>
<rect x="462.75" y="2084.00" width="5.00" height="25.50" fill="#000"/>
<rect x="459.25" y="2084.00" width="12.00" height="6.50" fill="#000"/>
<rect x="453.00" y="2108.50" width="24.50" height="268.50" fill="#56a0ff"/>
<rect x="501.25" y="2003.50" width="5.00" height="21.50" fill="#000"/>
<rect x="497.75" y="2003.50" width="12.00" height="6.50" fill="#000"/>
<rect x="491.50" y="2024.00" width="24.50" height="353.00" fill="#000"/>
<rect x="526.75" y="2006.50" width="5.00" height="11.50" fill="#000"/>
<rect x="523.25" y="2006.50" width="12.00" height="6.50" fill="#000"/>
<rect x="518.00" y="2017.00" width="22.50" height="360.00" fill="#000"/>
<rect x="523.50" y="2022.50" width="11.50" height="354.50" fill="#a0a0a5"/>
<rect x="552.25" y="2022.00" width="5.00" height="20.50" fill="#000"/>
<rect x="548.75" y="2022.00" width="12.00" height="6.50" fill="#000"/>
<rect x="542.50" y="2041.50" width="24.50" height="335.50" fill="#ff0000"/>
<rect x="578.75" y="2362.50" width="5.00" height="18.50" fill="#000"/>
<rect x="575.25" y="2362.50" width="12.00" height="6.50" fill="#000"/>
<rect x="615.25" y="1997.50" width="5.00" height="29.50" fill="#000"/>
<rect x="611.75" y="1997.50" width="12.00" height="6.50" fill="#000"/>
<rect x="605.50" y="2026.00" width="24.50" height="351.00" fill="#000"/>
<rect x="641.00" y="2080.00" width="5.00" height="24.75" fill="#000"/>
<rect x="637.50" y="2080.00" width="12.00" height="6.50" fill="#000"/>
<rect x="631.50" y="2103.75" width="24.00" height="273.25" fill="#000"/>
<rect x="637.00" y="2109.25" width="13.00" height="267.75" fill="#a0a0a5"/>
<rect x="668.00" y="2024.50" width="5.00" height="20.50" fill="#000"/>
<rect x="664.50" y="2024.50" width="12.00" height="6.50" fill="#000"/>
<rect x="658.00" y="2044.00" width="25.00" height="333.00" fill="#ff0000"/>
<rect x="706.25" y="1997.50" width="5.00" height="34.50" fill="#000"/>
<rect x="702.75" y="1997.50" width="12.00" height="6.50" fill="#000"/>
<rect x="696.50" y="2031.00" width="24.50" height="346.00" fill="#000"/>
<rect x="731.25" y="2087.00" width="5.00" height="17.75" fill="#000"/>
<rect x="727.75" y="2087.00" width="12.00" height="6.50" fill="#000"/>
<rect x="722.50" y="2103.75" width="22.50" height="273.25" fill="#000"/>
<rect x="728.00" y="2109.25" width="11.50" height="267.75" fill="#a0a0a5"/>
<rect x="757.25" y="2026.50" width="5.00" height="22.50" fill="#000"/>
<rect x="753.75" y="2026.50" width="12.00" height="6.50" fill="#000"/>
<rect x="747.50" y="2048.00" width="24.50" height="329.00" fill="#ff0000"/>
<rect x="794.75" y="2058.50" width="5.00" height="20.00" fill="#000"/>
<rect x="791.25" y="2058.50" width="12.00" height="6.50" fill="#000"/>
<rect x="785.00" y="2077.50" width="24.50" height="299.50" fill="#000"/>
<rect x="820.25" y="2091.00" width="5.00" height="16.25" fill="#000"/>
<rect x="816.75" y="2091.00" width="12.00" height="6.50" fill="#000"/>
<rect x="811.50" y="2106.25" width="22.50" height="270.75" fill="#000"/>
<rect x="817.00" y="2111.75" width="11.50" height="265.25" fill="#a0a0a5"/>
<rect x="846.25" y="2029.00" width="5.00" height="29.00" fill="#000"/>
<rect x="842.75" y="2029.00" width="12.00" height="6.50" fill="#000"/>
<rect x="836.50" y="2057.00" width="24.50" height="320.00" fill="#ff0000"/>
<rect x="884.25" y="2064.50" width="5.00" height="16.00" fill="#000"/>
<rect x="880.75" y="2064.50" width="12.00" height="6.50" fill="#000"/>
<rect x="874.50" y="2079.50" width="24.50" height="297.50" fill="#000"/>
<rect x="910.00" y="2086.50" width="5.00" height="23.25" fill="#000"/>
<rect x="906.50" y="2086.50" width="12.00" height="6.50" fill="#000"/>
<rect x="901.00" y="2108.75" width="23.00" height="268.25" fill="#000"/>
<rect x="906.50" y="2114.25" width="12.00" height="262.75" fill="#a0a0a5"/>
<rect x="935.25" y="2134.50" width="5.00" height="25.50" fill="#000"/>
<rect x="931.75" y="2134.50" width="12.00" height="6.50" fill="#000"/>
<rect x="925.50" y="2159.00" width="24.50" height="218.00" fill="#ff0000"/>
<rect x="973.25" y="2073.00" width="5.00" height="21.00" fill="#000"/>
<rect x="969.75" y="2073.00" width="12.00" height="6.50" fill="#000"/>
<rect x="963.50" y="2093.00" width="24.50" height="284.00" fill="#000"/>
<rect x="999.25" y="2085.00" width="5.00" height="24.75" fill="#000"/>
<rect x="995.75" y="2085.00" width="12.00" height="6.50" fill="#000"/>
<rect x="990.00" y="2108.75" width="23.50" height="268.25" fill="#000"/>
<rect x="995.50" y="2114.25" width="12.50" height="262.75" fill="#a0a0a5"/>
<rect x="1024.50" y="2139.50" width="5.00" height="24.00" fill="#000"/>
<rect x="1021.00" y="2139.50" width="12.00" height="6.50" fill="#000"/>
<rect x="1015.00" y="2162.50" width="24.00" height="214.50" fill="#ff0000"/>
<rect x="1062.25" y="2073.00" width="5.00" height="21.00" fill="#000"/>
<rect x="1058.75" y="2073.00" width="12.00" height="6.50" fill="#000"/>
<rect x="1052.50" y="2093.00" width="24.50" height="284.00" fill="#000"/>
<rect x="1088.00" y="2088.50" width="5.00" height="23.75" fill="#000"/>
<rect x="1084.50" y="2088.50" width="12.00" height="6.50" fill="#000"/>
<rect x="1078.50" y="2111.25" width="24.00" height="265.75" fill="#000"/>
<rect x="1084.00" y="2116.75" width="13.00" height="260.25" fill="#a0a0a5"/>
<rect x="1115.75" y="2144.00" width="5.00" height="23.50" fill="#000"/>
<rect x="1112.25" y="2144.00" width="12.00" height="6.50" fill="#000"/>
<rect x="1106.00" y="2166.50" width="24.50" height="210.50" fill="#ff0000"/>
<rect x="1151.25" y="2075.00" width="5.00" height="21.00" fill="#000"/>
<rect x="1147.75" y="2075.00" width="12.00" height="6.50" fill="#000"/>
<rect x="1141.50" y="2095.00" width="24.50" height="282.00" fill="#000"/>
<rect x="1177.50" y="2095.50" width="5.00" height="24.25" fill="#000"/>
<rect x="1174.00" y="2095.50" width="12.00" height="6.50" fill="#000"/>
<rect x="1168.00" y="2118.75" width="24.00" height="258.25" fill="#000"/>
<rect x="1173.50" y="2124.25" width="13.00" height="252.75" fill="#a0a0a5"/>
<rect x="1204.75" y="2150.50" width="5.00" height="23.50" fill="#000"/>
<rect x="1201.25" y="2150.50" width="12.00" height="6.50" fill="#000"/>
<rect x="1195.00" y="2173.00" width="24.50" height="204.00" fill="#ff0000"/>
<rect x="1240.50" y="2125.50" width="5.00" height="29.00" fill="#000"/>
<rect x="1237.00" y="2125.50" width="12.00" height="6.50" fill="#000"/>
<rect x="1231.00" y="2153.50" width="24.00" height="223.50" fill="#000"/>
<rect x="1266.75" y="2093.50" width="5.00" height="26.25" fill="#000"/>
<rect x="1263.25" y="2093.50" width="12.00" height="6.50" fill="#000"/>
<rect x="1257.50" y="2118.75" width="23.50" height="258.25" fill="#000"/>
<rect x="1263.00" y="2124.25" width="12.50" height="252.75" fill="#a0a0a5"/>
<rect x="1294.00" y="2287.00" width="5.00" height="5.50" fill="#000"/>
<rect x="1290.50" y="2287.00" width="12.00" height="6.50" fill="#000"/>
<rect x="1284.00" y="2291.50" width="25.00" height="85.50" fill="#ff0000"/>
<rect x="1331.75" y="2139.00" width="5.00" height="27.00" fill="#000"/>
<rect x="1328.25" y="2139.00" width="12.00" height="6.50" fill="#000"/>
<rect x="1322.00" y="2165.00" width="24.50" height="212.00" fill="#000"/>
<rect x="1356.75" y="2153.50" width="5.00" height="20.25" fill="#000"/>
<rect x="1353.25" y="2153.50" width="12.00" height="6.50" fill="#000"/>
<rect x="1348.00" y="2172.75" width="22.50" height="204.25" fill="#000"/>
<rect x="1353.50" y="2178.25" width="11.50" height="198.75" fill="#a0a0a5"/>
<rect x="1383.25" y="2281.00" width="5.00" height="15.50" fill="#000"/>
<rect x="1379.75" y="2281.00" width="12.00" height="6.50" fill="#000"/>
<rect x="1373.50" y="2295.50" width="24.50" height="81.50" fill="#ff0000"/>
<rect x="130.50" y="1756.25" width="5.75" height="621.75" fill="#000"/>
<rect x="117.50" y="1756.25" width="18.75" height="5.50" fill="#000"/>
<rect x="117.50" y="1859.72" width="18.75" height="5.50" fill="#000"/>
<rect x="117.50" y="1963.18" width="18.75" height="5.50" fill="#000"/>
<rect x="117.50" y="2066.65" width="18.75" height="5.50" fill="#000"/>
<rect x="117.50" y="2170.12" width="18.75" height="5.50" fill="#000"/>
<rect x="117.50" y="2273.58" width="18.75" height="5.50" fill="#000"/>
<rect x="117.50" y="2377.05" width="18.75" height="5.50" fill="#000"/>
<rect x="117.50" y="2377.00" width="1293.50" height="5.50" fill="#000"/>
<rect x="192.60" y="2382.00" width="6.00" height="13.50" fill="#000"/>
<text transform="translate(188.37,2422.30) scale(1.0000,1.0000)" font-size="26">0</text>
<rect x="307.50" y="2382.00" width="6.00" height="13.50" fill="#000"/>
<path transform="translate(303.27,2422.30) scale(0.01270,-0.01270)" d="M872,0L872,1430L700,1430C640,1290 440,1130 182,1010L182,754C330,800 480,860 591,930L591,0Z"/>
<rect x="423.00" y="2382.00" width="6.00" height="13.50" fill="#000"/>
<text transform="translate(418.77,2422.30) scale(1.0000,1.0000)" font-size="26">2</text>
<rect x="538.50" y="2382.00" width="6.00" height="13.50" fill="#000"/>
<text transform="translate(534.27,2422.30) scale(1.0000,1.0000)" font-size="26">3</text>
<rect x="640.75" y="2382.00" width="6.00" height="13.50" fill="#000"/>
<text transform="translate(636.52,2422.30) scale(1.0000,1.0000)" font-size="26">4</text>
<rect x="730.75" y="2382.00" width="6.00" height="13.50" fill="#000"/>
<text transform="translate(726.52,2422.30) scale(1.0000,1.0000)" font-size="26">5</text>
<rect x="819.50" y="2382.00" width="6.00" height="13.50" fill="#000"/>
<text transform="translate(815.27,2422.30) scale(1.0000,1.0000)" font-size="26">6</text>
<rect x="908.50" y="2382.00" width="6.00" height="13.50" fill="#000"/>
<text transform="translate(904.27,2422.30) scale(1.0000,1.0000)" font-size="26">7</text>
<rect x="997.50" y="2382.00" width="6.00" height="13.50" fill="#000"/>
<text transform="translate(993.27,2422.30) scale(1.0000,1.0000)" font-size="26">8</text>
<rect x="1087.50" y="2382.00" width="6.00" height="13.50" fill="#000"/>
<text transform="translate(1083.27,2422.30) scale(1.0000,1.0000)" font-size="26">9</text>
<rect x="1176.50" y="2382.00" width="6.00" height="13.50" fill="#000"/>
<path transform="translate(1165.04,2422.30) scale(0.01270,-0.01270)" d="M872,0L872,1430L700,1430C640,1290 440,1130 182,1010L182,754C330,800 480,860 591,930L591,0Z"/>
<text transform="translate(1179.50,2422.30) scale(1.0000,1.0000)" font-size="26">0</text>
<rect x="1266.00" y="2382.00" width="6.00" height="13.50" fill="#000"/>
<path transform="translate(1254.54,2422.30) scale(0.01270,-0.01270)" d="M872,0L872,1430L700,1430C640,1290 440,1130 182,1010L182,754C330,800 480,860 591,930L591,0Z"/>
<path transform="translate(1269.00,2422.30) scale(0.01270,-0.01270)" d="M872,0L872,1430L700,1430C640,1290 440,1130 182,1010L182,754C330,800 480,860 591,930L591,0Z"/>
<rect x="1355.50" y="2382.00" width="6.00" height="13.50" fill="#000"/>
<path transform="translate(1344.04,2422.30) scale(0.01270,-0.01270)" d="M872,0L872,1430L700,1430C640,1290 440,1130 182,1010L182,754C330,800 480,860 591,930L591,0Z"/>
<text transform="translate(1358.50,2422.30) scale(1.0000,1.0000)" font-size="26">2</text>
<path transform="translate(70.78,1768.50) scale(0.01332,-0.01372)" d="M872,0L872,1430L700,1430C640,1290 440,1130 182,1010L182,754C330,800 480,860 591,930L591,0Z"/>
<text transform="translate(85.95,1768.50) scale(0.9093,0.9366)" font-size="30">0</text>
<text transform="translate(103.97,1760.30) scale(1.0000,1.0000)" font-size="17">9</text>
<path transform="translate(70.78,1871.97) scale(0.01332,-0.01372)" d="M872,0L872,1430L700,1430C640,1290 440,1130 182,1010L182,754C330,800 480,860 591,930L591,0Z"/>
<text transform="translate(85.95,1871.97) scale(0.9093,0.9366)" font-size="30">0</text>
<text transform="translate(103.97,1863.77) scale(1.0000,1.0000)" font-size="17">8</text>
<path transform="translate(70.78,1975.43) scale(0.01332,-0.01372)" d="M872,0L872,1430L700,1430C640,1290 440,1130 182,1010L182,754C330,800 480,860 591,930L591,0Z"/>
<text transform="translate(85.95,1975.43) scale(0.9093,0.9366)" font-size="30">0</text>
<text transform="translate(103.97,1967.23) scale(1.0000,1.0000)" font-size="17">7</text>
<path transform="translate(70.78,2078.90) scale(0.01332,-0.01372)" d="M872,0L872,1430L700,1430C640,1290 440,1130 182,1010L182,754C330,800 480,860 591,930L591,0Z"/>
<text transform="translate(85.95,2078.90) scale(0.9093,0.9366)" font-size="30">0</text>
<text transform="translate(103.97,2070.70) scale(1.0000,1.0000)" font-size="17">6</text>
<path transform="translate(70.78,2182.37) scale(0.01332,-0.01372)" d="M872,0L872,1430L700,1430C640,1290 440,1130 182,1010L182,754C330,800 480,860 591,930L591,0Z"/>
<text transform="translate(85.95,2182.37) scale(0.9093,0.9366)" font-size="30">0</text>
<text transform="translate(103.97,2174.17) scale(1.0000,1.0000)" font-size="17">5</text>
<path transform="translate(70.78,2285.83) scale(0.01332,-0.01372)" d="M872,0L872,1430L700,1430C640,1290 440,1130 182,1010L182,754C330,800 480,860 591,930L591,0Z"/>
<text transform="translate(85.95,2285.83) scale(0.9093,0.9366)" font-size="30">0</text>
<text transform="translate(103.97,2277.63) scale(1.0000,1.0000)" font-size="17">4</text>
<path transform="translate(70.78,2389.30) scale(0.01332,-0.01372)" d="M872,0L872,1430L700,1430C640,1290 440,1130 182,1010L182,754C330,800 480,860 591,930L591,0Z"/>
<text transform="translate(85.95,2389.30) scale(0.9093,0.9366)" font-size="30">0</text>
<text transform="translate(103.97,2381.10) scale(1.0000,1.0000)" font-size="17">3</text>
<text transform="translate(642.58,2468.75) scale(0.9684,0.9878)" font-size="30">months of storage</text>
<text transform="translate(60.67,2207.71) rotate(-90) scale(0.9653,1.0108)" font-size="30">phage titer [PFU/ml]</text>
<text transform="translate(804.26,1715.50) scale(1.1275,1.1501)" font-size="30">Acba_</text>
<path transform="translate(905.79,1715.50) scale(0.01652,-0.01685)" d="M872,0L872,1430L700,1430C640,1290 440,1130 182,1010L182,754C330,800 480,860 591,930L591,0Z"/>
<path transform="translate(924.60,1715.50) scale(0.01652,-0.01685)" d="M872,0L872,1430L700,1430C640,1290 440,1130 182,1010L182,754C330,800 480,860 591,930L591,0Z"/>
<rect x="888.00" y="1718.50" width="19.50" height="4.00" fill="#000"/>
<rect x="1199.60" y="1796.30" width="37.90" height="19.70" fill="#000"/>
<text transform="translate(1257.29,1815.60) scale(0.9490,0.9679)" font-size="30">-70°C</text>
<rect x="1199.60" y="1845.20" width="37.90" height="19.80" fill="#000"/>
<rect x="1204.70" y="1849.60" width="27.30" height="8.80" fill="#c8c8c8"/>
<text transform="translate(1257.22,1865.00) scale(0.9560,0.9751)" font-size="30">glycerol, -70°C</text>
<rect x="1199.60" y="1894.00" width="37.90" height="20.20" fill="#ff0000"/>
<text transform="translate(1257.98,1913.60) scale(0.9150,0.9333)" font-size="30">4°C</text>
<rect x="1199.60" y="1941.50" width="37.90" height="20.00" fill="#56a0ff"/>
<text transform="translate(1256.49,1962.50) scale(0.9673,0.9867)" font-size="30">room temp.</text>
<rect x="253.40" y="1944.00" width="182.50" height="6.40" fill="#000"/>
<rect x="441.00" y="1944.00" width="10.00" height="6.40" fill="#000"/>
<rect x="456.00" y="1944.00" width="10.50" height="6.40" fill="#000"/>
<rect x="471.20" y="1944.00" width="10.70" height="6.40" fill="#000"/>
<rect x="253.40" y="1944.00" width="7.10" height="20.70" fill="#000"/>
<text x="287.00" y="1957.00" font-size="62" text-anchor="start" >*</text>
</svg>
</body></html>
